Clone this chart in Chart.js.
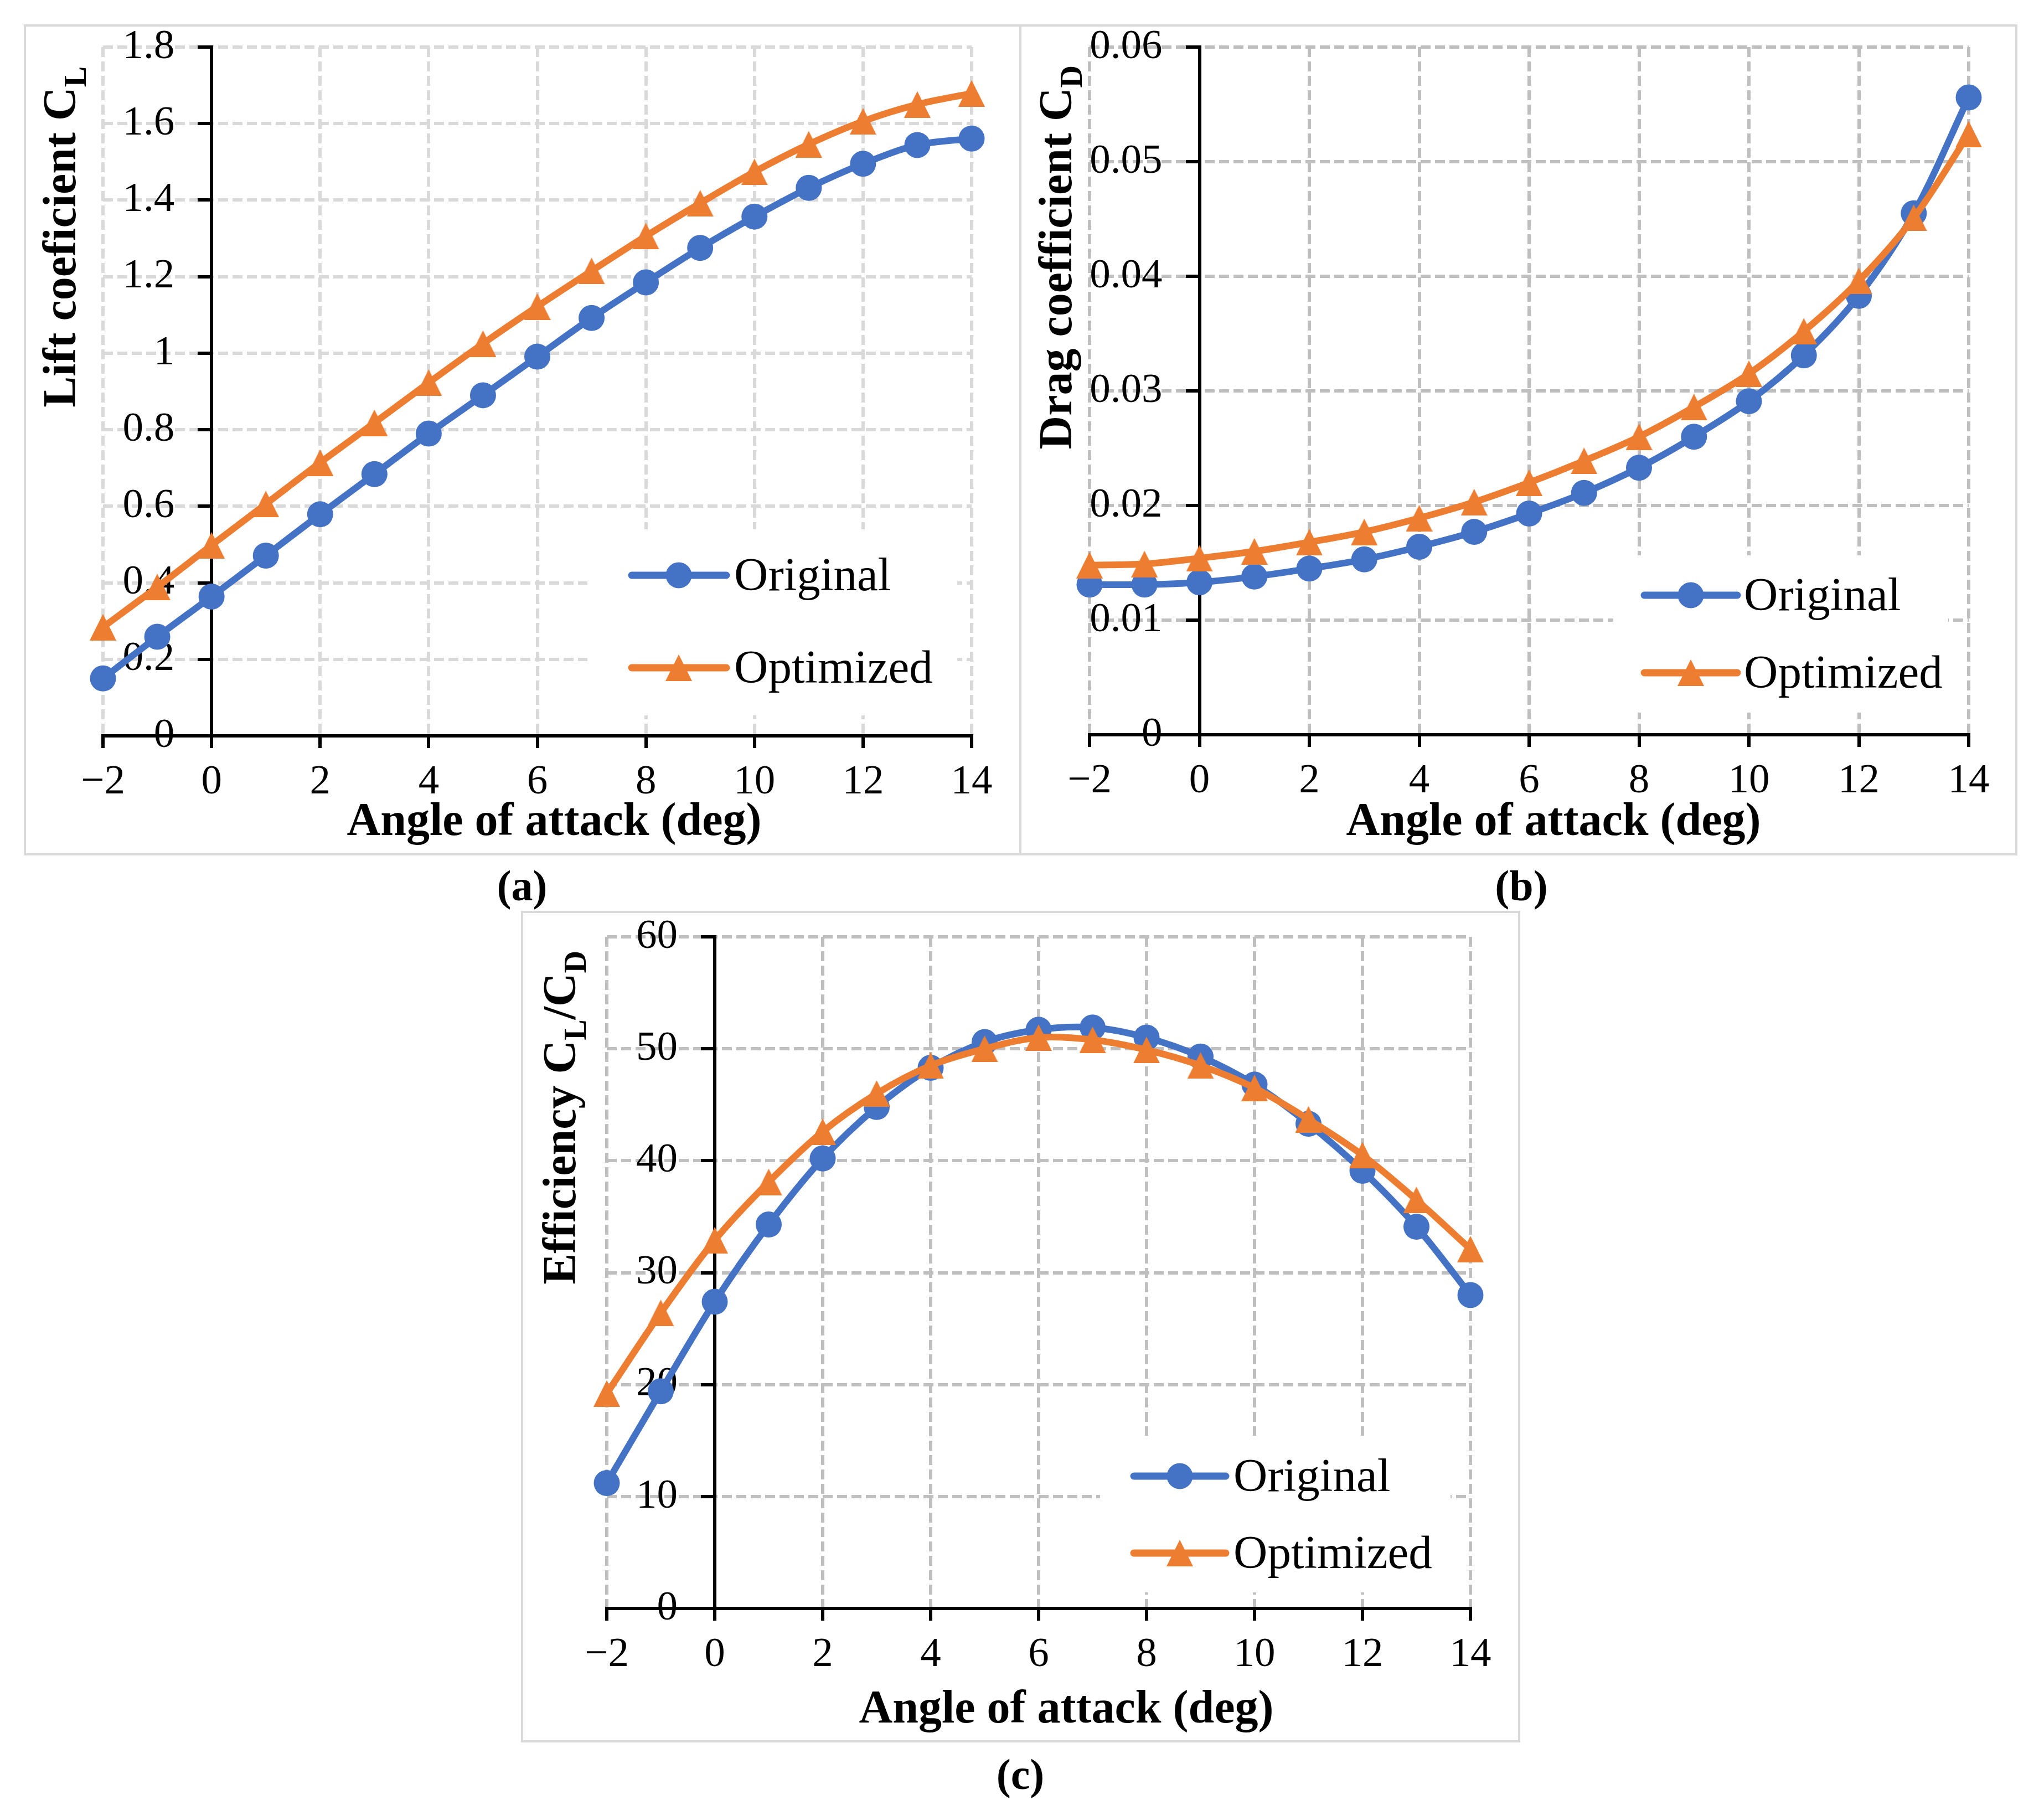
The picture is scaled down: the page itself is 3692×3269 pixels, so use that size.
<!DOCTYPE html>
<html>
<head>
<meta charset="utf-8">
<script src="https://cdn.jsdelivr.net/npm/chart.js@4.4.1/dist/chart.umd.min.js"></script>
<style>
  html, body { margin: 0; padding: 0; background: #fff; }
  body { width: 3692px; height: 3269px; position: relative; overflow: hidden; }
  canvas { position: absolute; }
  .cap { position: absolute; width: 200px; text-align: center; font: bold 78px "Liberation Serif", "Times New Roman", serif; line-height: 78px; color: #000; }
</style>
</head>
<body>
<canvas id="chartA"></canvas>
<canvas id="chartB"></canvas>
<canvas id="chartC"></canvas>
<div class="cap" style="left:843px; top:1561px">(a)</div>
<div class="cap" style="left:2648px; top:1561px">(b)</div>
<div class="cap" style="left:1743px; top:3166px">(c)</div>
<script>
// ---------- DATA ----------
const angles = [-2, -1, 0, 1, 2, 3, 4, 5, 6, 7, 8, 9, 10, 11, 12, 13, 14];
const seriesNames = ["Original", "Optimized"];

const liftOriginal = [0.150, 0.259, 0.364, 0.471, 0.579, 0.684, 0.790, 0.890, 0.991, 1.092, 1.185, 1.275, 1.357, 1.432, 1.495, 1.544, 1.561];
const liftOptimized = [0.284, 0.389, 0.498, 0.606, 0.714, 0.818, 0.923, 1.025, 1.122, 1.215, 1.306, 1.392, 1.474, 1.546, 1.606, 1.650, 1.679];

const dragOriginal = [0.0131, 0.0131, 0.0133, 0.0138, 0.0145, 0.0153, 0.0164, 0.0177, 0.0193, 0.0211, 0.0233, 0.0260, 0.0291, 0.0331, 0.0383, 0.0455, 0.0556];
const dragOptimized = [0.0148, 0.0149, 0.0154, 0.0160, 0.0168, 0.0177, 0.0189, 0.0203, 0.0220, 0.0239, 0.0260, 0.0286, 0.0315, 0.0352, 0.0396, 0.0451, 0.0524];

const effOriginal = [11.2, 19.4, 27.4, 34.3, 40.2, 44.8, 48.3, 50.6, 51.7, 51.9, 51.0, 49.3, 46.8, 43.3, 39.1, 34.1, 28.0];
const effOptimized = [19.2, 26.4, 32.9, 38.1, 42.6, 46.0, 48.5, 50.0, 51.0, 50.8, 49.9, 48.5, 46.5, 43.7, 40.5, 36.5, 32.1];

const xTicks = [-2, 0, 2, 4, 6, 8, 10, 12, 14];
const liftTicks = [0, 0.2, 0.4, 0.6, 0.8, 1, 1.2, 1.4, 1.6, 1.8];
const dragTicks = [0, 0.01, 0.02, 0.03, 0.04, 0.05, 0.06];
const effTicks = [0, 10, 20, 30, 40, 50, 60];

const xTitle = "Angle of attack (deg)";

// ---------- STYLE ----------
const BLUE = "#4472C4";
const ORANGE = "#ED7D31";
const FONT = "'Liberation Serif', 'Times New Roman', serif";
const XAXIS_H = 140;
const YLABEL_GAP = 67; // px between y tick labels and the y axis line

function triangleImage(color, size) {
  const c = document.createElement("canvas");
  c.width = size;
  c.height = size;
  const g = c.getContext("2d");
  g.fillStyle = color;
  g.beginPath();
  g.moveTo(size / 2, 0);
  g.lineTo(size, size);
  g.lineTo(0, size);
  g.closePath();
  g.fill();
  return c;
}
const triangle = triangleImage(ORANGE, 48);

function fmt(v) {
  return v < 0 ? "\u2212" + (-v) : String(v);
}

function points(ys) {
  return angles.map((a, i) => ({ x: a, y: ys[i] }));
}

// ---------- PANELS (page coordinates) ----------
const panels = [
  {
    id: "chartA", frame: [45, 46, 1843, 1543], plot: [186, 85, 1755, 1329],
    grid: "#D9D9D9", ticks: liftTicks, series: [liftOriginal, liftOptimized],
    yTitle: [["Lift coeficient C", false], ["L", true]], yTitleX: 136, yTitleEnd: 120,
    xTitleX: 1001, xTitleY: 1508,
    legendBox: [1061, 956, 1729, 1292], legendLine: [1141, 1312], legendMarker: 1226, legendText: 1326, legendRows: [1039, 1206]
  },
  {
    id: "chartB", frame: [1843, 46, 3642, 1543], plot: [1968, 85, 3556, 1327],
    grid: "#BFBFBF", ticks: dragTicks, series: [dragOriginal, dragOptimized],
    yTitle: [["Drag coefficient C", false], ["D", true]], yTitleX: 1935, yTitleEnd: 118,
    xTitleX: 2806, xTitleY: 1508,
    legendBox: [2914, 1003, 3519, 1287], legendLine: [2970, 3138], legendMarker: 3054, legendText: 3150, legendRows: [1075, 1215]
  },
  {
    id: "chartC", frame: [943, 1647, 2744, 3145], plot: [1096, 1692, 2656, 2905],
    grid: "#BFBFBF", ticks: effTicks, series: [effOriginal, effOptimized],
    yTitle: [["Efficiency C", false], ["L", true], ["/C", false], ["D", true]], yTitleX: 1039, yTitleEnd: 1717,
    xTitleX: 1926, xTitleY: 3111,
    legendBox: [1987, 2593, 2620, 2876], legendLine: [2048, 2214], legendMarker: 2131, legendText: 2228, legendRows: [2666, 2805]
  }
];

// ---------- DRAW HELPERS ----------
function makeDecor(p) {
  const ox = p.frame[0] - 2, oy = p.frame[1] - 2;
  return {
    id: "decor",
    beforeDatasetsDraw(chart) {
      const ctx = chart.ctx;
      const b = p.legendBox;
      ctx.save();
      ctx.fillStyle = "#fff";
      ctx.fillRect(b[0] - ox, b[1] - oy, b[2] - b[0], b[3] - b[1]);
      chart.data.datasets.forEach((ds, i) => {
        const y = p.legendRows[i] - oy;
        ctx.strokeStyle = ds.borderColor;
        ctx.lineWidth = 13;
        ctx.lineCap = "round";
        ctx.beginPath();
        ctx.moveTo(p.legendLine[0] - ox, y);
        ctx.lineTo(p.legendLine[1] - ox, y);
        ctx.stroke();
        const mx = p.legendMarker - ox;
        if (ds.pointStyle === "circle") {
          ctx.fillStyle = ds.backgroundColor;
          ctx.beginPath();
          ctx.arc(mx, y, 23.5, 0, Math.PI * 2);
          ctx.fill();
        } else {
          ctx.drawImage(ds.pointStyle, mx - 24, y - 24);
        }
        ctx.fillStyle = "#000";
        ctx.font = "85px " + FONT;
        ctx.textAlign = "left";
        ctx.textBaseline = "alphabetic";
        ctx.fillText(ds.label, p.legendText - ox, y + 27);
      });
      ctx.restore();
    },
    afterDraw(chart) {
      const ctx = chart.ctx;
      ctx.save();
      // frame
      ctx.strokeStyle = "#D9D9D9";
      ctx.lineWidth = 4;
      ctx.strokeRect(2, 2, p.frame[2] - p.frame[0], p.frame[3] - p.frame[1]);

      // x title
      ctx.fillStyle = "#000";
      ctx.font = "bold 84px " + FONT;
      ctx.textAlign = "center";
      ctx.textBaseline = "alphabetic";
      ctx.fillText(xTitle, p.xTitleX - ox, p.xTitleY - oy);

      // y title with subscripts, rotated
      const mainFont = "bold 84px " + FONT;
      const subFont = "bold 56px " + FONT;
      let total = 0;
      p.yTitle.forEach(([t, sub]) => {
        ctx.font = sub ? subFont : mainFont;
        total += ctx.measureText(t).width;
      });
      ctx.translate(p.yTitleX - ox, p.yTitleEnd - oy + total);
      ctx.rotate(-Math.PI / 2);
      ctx.textAlign = "left";
      let cx = 0;
      p.yTitle.forEach(([t, sub]) => {
        ctx.font = sub ? subFont : mainFont;
        ctx.fillText(t, cx, sub ? 19 : 0);
        cx += ctx.measureText(t).width;
      });
      ctx.restore();
    }
  };
}

// ---------- BUILD CHARTS ----------
panels.forEach((p) => {
  const canvas = document.getElementById(p.id);
  const ox = p.frame[0] - 2, oy = p.frame[1] - 2;
  const w = p.frame[2] - p.frame[0] + 4;
  const h = p.frame[3] - p.frame[1] + 4;
  canvas.width = w;
  canvas.height = h;
  canvas.style.left = ox + "px";
  canvas.style.top = oy + "px";
  canvas.style.width = w + "px";
  canvas.style.height = h + "px";

  const padding = {
    left: p.plot[0] - ox,
    top: p.plot[1] - oy,
    right: w - (p.plot[2] - ox),
    bottom: h - (p.plot[3] - oy) - XAXIS_H
  };

  const tickFont = { family: FONT, size: 75 };
  const yTicks = p.ticks;
  const xMin = xTicks[0], xMax = xTicks[xTicks.length - 1];
  // where the y tick labels sit, in x units (just left of the axis at x = 0)
  const labelX = -YLABEL_GAP * (xMax - xMin) / (p.plot[2] - p.plot[0]);

  const yBase = {
    type: "linear",
    min: yTicks[0],
    max: yTicks[yTicks.length - 1],
    afterBuildTicks: (s) => { s.ticks = yTicks.map((v) => ({ value: v })); },
    afterFit: (s) => { s.paddingTop = 0; s.paddingBottom = 0; }
  };

  new Chart(canvas, {
    type: "line",
    data: {
      datasets: [
        {
          label: seriesNames[0],
          data: points(p.series[0]),
          borderColor: BLUE,
          backgroundColor: BLUE,
          borderWidth: 12,
          pointStyle: "circle",
          pointRadius: 23.5,
          pointBorderWidth: 0,
          pointBackgroundColor: BLUE,
          tension: 0.33,
          borderCapStyle: "round",
          borderJoinStyle: "round",
          clip: false,
          order: 1
        },
        {
          label: seriesNames[1],
          data: points(p.series[1]),
          borderColor: ORANGE,
          backgroundColor: ORANGE,
          borderWidth: 12,
          pointStyle: triangle,
          pointRadius: 24,
          pointBorderWidth: 0,
          tension: 0.33,
          borderCapStyle: "round",
          borderJoinStyle: "round",
          clip: false,
          order: 0
        }
      ]
    },
    options: {
      responsive: false,
      animation: false,
      devicePixelRatio: 1,
      events: [],
      layout: { padding: padding },
      plugins: {
        legend: { display: false },
        tooltip: { enabled: false }
      },
      scales: {
        x: {
          type: "linear",
          position: "bottom",
          min: xMin,
          max: xMax,
          afterBuildTicks: (s) => { s.ticks = xTicks.map((v) => ({ value: v })); },
          afterFit: (s) => { s.height = XAXIS_H; s.paddingLeft = 0; s.paddingRight = 0; },
          grid: { color: p.grid, lineWidth: 6, drawTicks: true, tickLength: 22, tickColor: "#000", tickWidth: 6, tickBorderDash: [] },
          border: { display: true, color: "#000", width: 6, dash: [18, 8] },
          ticks: { font: tickFont, color: "#000", padding: 17, maxRotation: 0, autoSkip: false, callback: (v) => fmt(v) }
        },
        y: Object.assign({}, yBase, {
          position: { x: 0 },
          grid: { color: p.grid, lineWidth: 6, drawTicks: true, tickLength: 22, tickColor: "#000", tickWidth: 6, tickBorderDash: [] },
          border: { display: true, color: "#000", width: 6, dash: [18, 8] },
          ticks: { display: false }
        }),
        yLabels: Object.assign({}, yBase, {
          axis: "y",
          position: { x: labelX },
          grid: { display: false, drawTicks: false },
          border: { display: false },
          ticks: { font: tickFont, color: "#000", padding: 0, autoSkip: false, callback: (v) => fmt(v) }
        })
      }
    },
    plugins: [makeDecor(p)]
  });
});
</script>
</body>
</html>
